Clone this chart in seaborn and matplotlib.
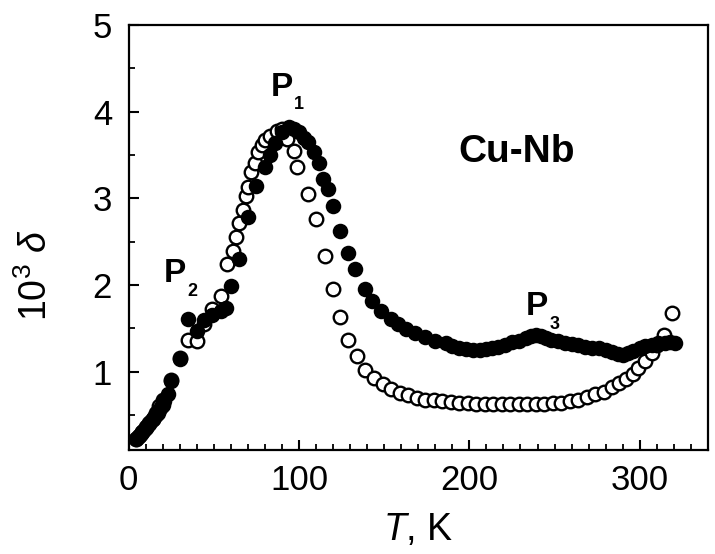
import matplotlib
matplotlib.use("Agg")
import matplotlib.pyplot as plt
import seaborn as sns
from matplotlib.ticker import MultipleLocator

# ---- data ----
T_full = [4, 5, 6, 7, 8, 9, 10, 11, 12, 13, 14, 15, 16, 17, 18, 19, 20, 21, 23, 25,
          30, 35, 40, 44, 49, 54, 57, 60, 65, 70, 75, 80, 83, 86, 90, 94, 97, 100,
          103, 105, 109, 112, 114, 117, 120, 124, 129, 133, 139, 143, 148, 154, 158,
          163, 168, 174, 180, 186, 190, 194, 198, 202, 206, 210, 213, 217, 221, 225,
          229, 233, 236, 239, 242, 245, 248, 252, 256, 260, 264, 268, 272, 276, 280,
          284, 287, 290, 293, 296, 300, 303, 307, 311, 315, 318, 321]
d_full = [0.22, 0.24, 0.26, 0.28, 0.31, 0.33, 0.35, 0.38, 0.40, 0.43, 0.45, 0.48, 0.50,
          0.53, 0.56, 0.59, 0.62, 0.66, 0.74, 0.89, 1.15, 1.61, 1.47, 1.60, 1.65, 1.70,
          1.74, 1.99, 2.30, 2.78, 3.14, 3.36, 3.50, 3.64, 3.77, 3.82, 3.80, 3.77, 3.70,
          3.65, 3.53, 3.41, 3.22, 3.11, 2.91, 2.62, 2.37, 2.18, 1.96, 1.82, 1.70, 1.61,
          1.55, 1.49, 1.45, 1.40, 1.36, 1.33, 1.30, 1.28, 1.26, 1.25, 1.25, 1.26, 1.27,
          1.29, 1.31, 1.34, 1.36, 1.39, 1.41, 1.42, 1.41, 1.39, 1.37, 1.35, 1.33, 1.32,
          1.31, 1.29, 1.28, 1.27, 1.25, 1.23, 1.20, 1.19, 1.22, 1.24, 1.28, 1.30, 1.31,
          1.33, 1.33, 1.34, 1.33]

T_open = [4, 6, 8, 10, 12, 14, 16, 18, 20, 25, 30, 35, 40, 44, 49, 54, 58, 61, 63, 65,
          67, 69, 70, 72, 74, 76, 78, 80, 83, 87, 90, 93, 97, 99, 105, 110, 115, 120,
          124, 129, 134, 139, 144, 149, 154, 159, 164, 169, 174, 179, 184, 189, 194,
          199, 204, 209, 214, 219, 224, 229, 234, 239, 244, 249, 254, 259, 264, 269,
          274, 279, 284, 288, 292, 296, 299, 303, 307, 310, 314, 319]
d_open = [0.22, 0.26, 0.31, 0.36, 0.41, 0.46, 0.52, 0.60, 0.68, 0.90, 1.16, 1.37, 1.35,
          1.55, 1.72, 1.87, 2.24, 2.39, 2.55, 2.72, 2.87, 3.03, 3.13, 3.30, 3.41, 3.53,
          3.62, 3.67, 3.72, 3.78, 3.80, 3.68, 3.55, 3.36, 3.05, 2.76, 2.34, 1.95, 1.63,
          1.37, 1.18, 1.02, 0.93, 0.86, 0.80, 0.76, 0.73, 0.70, 0.68, 0.67, 0.66, 0.65,
          0.64, 0.64, 0.63, 0.63, 0.63, 0.63, 0.63, 0.63, 0.63, 0.63, 0.63, 0.64, 0.64,
          0.66, 0.68, 0.71, 0.74, 0.77, 0.82, 0.87, 0.92, 0.98, 1.04, 1.12, 1.22, 1.31,
          1.43, 1.68]

x_ticks = [0, 100, 200, 300]
y_ticks = [1, 2, 3, 4, 5]

# ---- style ----
sns.set_style("ticks")
plt.rcParams["font.family"] = ["Liberation Sans", "DejaVu Sans"]
plt.rcParams["mathtext.fontset"] = "custom"
plt.rcParams["mathtext.rm"] = "Liberation Sans"
plt.rcParams["mathtext.it"] = "Liberation Sans:italic"
plt.rcParams["mathtext.bf"] = "Liberation Sans:bold"
plt.rcParams["text.color"] = "black"
plt.rcParams["axes.labelcolor"] = "black"
plt.rcParams["xtick.color"] = "black"
plt.rcParams["ytick.color"] = "black"

fig = plt.figure(figsize=(7.15, 5.54), dpi=100)
ax = fig.add_axes([0.180, 0.188, 0.810, 0.767])

sns.scatterplot(x=T_open, y=d_open, ax=ax, s=95, facecolor="white",
                edgecolor="black", linewidth=1.7, zorder=2)
sns.scatterplot(x=T_full, y=d_full, ax=ax, s=125, color="black",
                edgecolor="black", linewidth=0, zorder=3)

ax.set_xlim(0, 340)
ax.set_ylim(0.1, 5)
ax.set_xticks(x_ticks)
ax.set_yticks(y_ticks)
ax.xaxis.set_minor_locator(MultipleLocator(10))
ax.yaxis.set_minor_locator(MultipleLocator(0.5))
ax.tick_params(which="major", direction="in", length=7, width=1.5,
               labelsize=25, color="black", labelcolor="black")
ax.tick_params(which="minor", direction="in", length=4, width=1.3, color="black")
ax.tick_params(axis="x", which="major", pad=10)
ax.tick_params(axis="y", which="major", pad=12)
for sp in ax.spines.values():
    sp.set_linewidth(1.6)
    sp.set_color("black")

ax.set_xlabel(r"$T$, K", fontsize=27, labelpad=11, color="black")
ax.set_ylabel(r"10$^3$ $\delta$", fontsize=27, color="black")
ax.yaxis.set_label_coords(-0.128, 0.41)

# annotations
ax.text(83.6, 4.18, "P", fontsize=24, fontweight="bold", ha="left", va="baseline")
ax.text(97.0, 4.03, "1", fontsize=13, fontweight="bold", ha="left", va="baseline")
ax.text(20.5, 2.04, "P", fontsize=24, fontweight="bold", ha="left", va="baseline")
ax.text(34.5, 1.87, "2", fontsize=13, fontweight="bold", ha="left", va="baseline")
ax.text(233.3, 1.66, "P", fontsize=24, fontweight="bold", ha="left", va="baseline")
ax.text(247.4, 1.49, "3", fontsize=13, fontweight="bold", ha="left", va="baseline")
ax.text(193.6, 3.42, "Cu-Nb", fontsize=28, fontweight="bold", ha="left", va="baseline")

fig.savefig("out.png", dpi=100)
